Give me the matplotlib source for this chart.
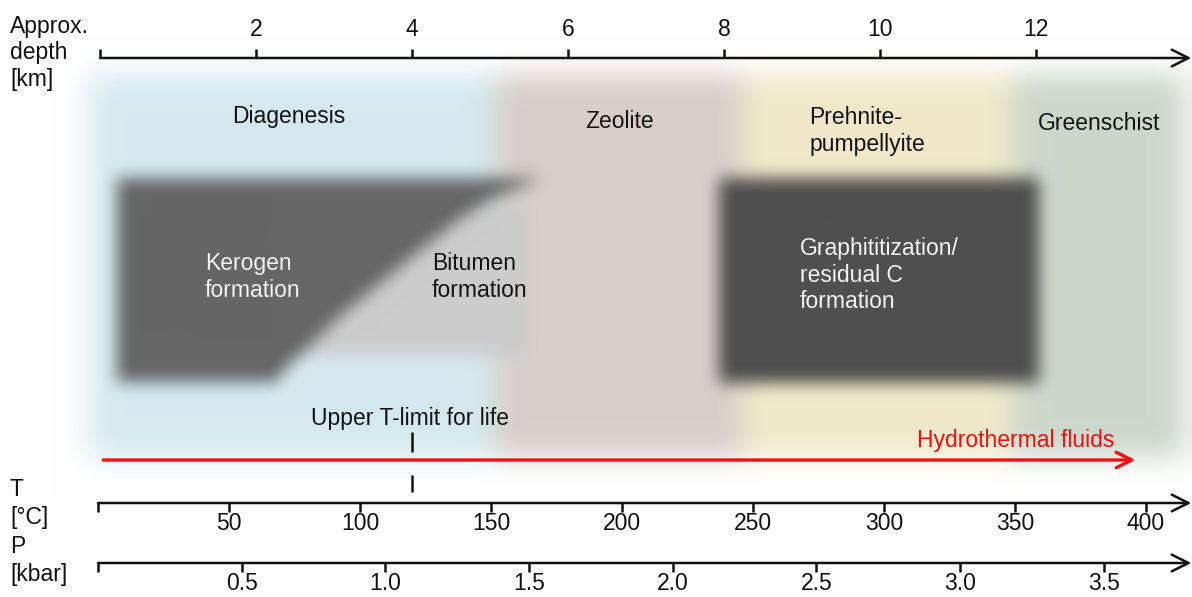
import numpy as np
import matplotlib
matplotlib.use('Agg')
import matplotlib.pyplot as plt

plt.rcParams['font.family'] = ['Liberation Sans', 'DejaVu Sans']

# axes scales (everything is placed on the temperature scale, deg C)
depth_ticks = [2, 4, 6, 8, 10, 12]          # km
temp_ticks = [50, 100, 150, 200, 250, 300, 350, 400]   # deg C
pres_ticks = [0.5, 1.0, 1.5, 2.0, 2.5, 3.0, 3.5]       # kbar
degC_per_km = 29.77
degC_offset_km = 0.76
degC_per_kbar = 109.7

# metamorphic zones: edges in deg C
zone_names = ['Diagenesis', 'Zeolite', 'Prehnite-\npumpellyite', 'Greenschist']
zone_edges = [-4, 152, 246, 349, 415]
zone_colors = ['#d5e9ef', '#d8ceca', '#f0e9c9', '#cdd7cb']

# kerogen / bitumen boundary (row position, deg C)
curve_y = [175, 185, 200, 217, 250, 283, 320, 350, 365, 380]
curve_T = [172.5, 163, 149.6, 138.9, 122.9, 107.6, 90.5, 79, 73, 68]
kerogen_T0 = 7.0
bitumen_T1 = 164
graphite_T = [237, 359.5]

life_limit = 120      # deg C
fluids_T = [2, 396]   # deg C

xlim = (-37.4, 417.6)
H, W = 597, 1192

def box_blur(a, r, axis):
    pad = [(0, 0)] * a.ndim
    pad[axis] = (r + 1, r)
    p = np.pad(a, pad, mode='edge')
    c = np.cumsum(p, axis=axis)
    n = a.shape[axis]
    hi = np.take(c, np.arange(2 * r + 1, 2 * r + 1 + n), axis=axis)
    lo = np.take(c, np.arange(0, n), axis=axis)
    return (hi - lo) / (2 * r + 1)

def blur(a, r):
    for _ in range(3):
        a = box_blur(a, r, 0)
        a = box_blur(a, r, 1)
    return a

def rgb(h):
    h = h.lstrip('#')
    return np.array([int(h[i:i + 2], 16) / 255 for i in (0, 2, 4)])

xs = np.linspace(xlim[0], xlim[1], W)
ys = np.arange(H) + 0.5
X, Y = np.meshgrid(xs, ys)

# background zones
bg = np.ones((H, W, 3))
band = (Y > 74) & (Y < 458)
for i in range(len(zone_names)):
    m = band & (X >= zone_edges[i]) & (X < zone_edges[i + 1])
    bg[m] = rgb(zone_colors[i])
bg = blur(bg, 13)

# boxes layer
lay = np.zeros((H, W, 4))
cx = np.interp(Y, curve_y, curve_T)
ker = (Y > 178) & (Y < 382) & (X > kerogen_T0) & (X < cx)
bit = (Y > 205) & (Y < 355) & (X >= cx) & (X < bitumen_T1)
gra = (Y > 178) & (Y < 383) & (X > graphite_T[0]) & (X < graphite_T[1])
for m, c in [(ker, '#666666'), (bit, '#cccccc'), (gra, '#4f4f4f')]:
    lay[m, :3] = rgb(c)
    lay[m, 3] = 1
lay[..., :3] *= lay[..., 3:4]
lay = blur(lay, 7)
img = lay[..., :3] + bg * (1 - lay[..., 3:4])
img = np.clip(img, 0, 1)

fig = plt.figure(figsize=(11.92, 5.97), dpi=100)
ax = fig.add_axes([0, 0, 1, 1])
ax.imshow(img, extent=(xlim[0], xlim[1], H, 0), aspect='auto', interpolation='bilinear')
ax.set_xlim(xlim)
ax.set_ylim(H, 0)
ax.axis('off')

fs = 16.5
dark = '#111111'
arrow = dict(arrowstyle='->', lw=1.8, color=dark, mutation_scale=30, shrinkA=0, shrinkB=0)

# depth axis
ax.annotate('', xy=(417.3, 58), xytext=(degC_offset_km, 58), arrowprops=arrow)
dT = [degC_offset_km + d * degC_per_km for d in depth_ticks]
ax.vlines([degC_offset_km] + dT, 49, 58, color=dark, lw=1.8)
for d, x in zip(depth_ticks, dT):
    ax.text(x, 30, str(d), ha='center', va='center', fontsize=fs, color=dark)
ax.text(-33.6, 53, 'Approx.\ndepth\n[km]', ha='left', va='center', fontsize=fs,
        color=dark, linespacing=1.18)

# temperature axis
ax.annotate('', xy=(417.3, 503), xytext=(0, 503), arrowprops=arrow)
ax.vlines([0] + temp_ticks, 503, 512, color=dark, lw=1.8)
for t in temp_ticks:
    ax.text(t, 524, str(t), ha='center', va='center', fontsize=fs, color=dark)

# pressure axis
ax.annotate('', xy=(417.3, 563), xytext=(0, 563), arrowprops=arrow)
pT = [p * degC_per_kbar for p in pres_ticks]
ax.vlines([0] + pT, 563, 572, color=dark, lw=1.8)
for p, x in zip(pres_ticks, pT):
    ax.text(x, 584, '%.1f' % p, ha='center', va='center', fontsize=fs, color=dark)

ax.text(-33.6, 532, 'T\n[°C]\nP\n[kbar]', ha='left', va='center', fontsize=fs,
        color=dark, linespacing=1.3)

# zone labels
ax.text(73, 116, zone_names[0], ha='center', va='center', fontsize=fs, color=dark)
ax.text(199, 122, zone_names[1], ha='center', va='center', fontsize=fs, color=dark)
ax.text(271.5, 131, zone_names[2], ha='left', va='center', fontsize=fs, color=dark,
        linespacing=1.2)
ax.text(382, 124, zone_names[3], ha='center', va='center', fontsize=fs, color=dark)

ax.text(40.8, 277, 'Kerogen\nformation', ha='left', va='center', fontsize=fs,
        color='#f5f5f5', linespacing=1.2)
ax.text(127.5, 277, 'Bitumen\nformation', ha='left', va='center', fontsize=fs,
        color=dark, linespacing=1.2)
ax.text(268, 275, 'Graphititization/\nresidual C\nformation', ha='left', va='center',
        fontsize=fs, color='#f5f5f5', linespacing=1.2)

# upper T-limit for life
ax.text(life_limit - 1, 418, 'Upper T-limit for life', ha='center', va='center',
        fontsize=fs, color=dark)
ax.vlines(life_limit, 432, 452, color=dark, lw=1.8)
ax.vlines(life_limit, 475, 492, color=dark, lw=1.8)

# hydrothermal fluids
ax.annotate('', xy=(fluids_T[1], 460), xytext=(fluids_T[0], 460),
            arrowprops=dict(arrowstyle='->', lw=2.4, color='#ee1111',
                            mutation_scale=28, shrinkA=0, shrinkB=0))
ax.text(388, 441, 'Hydrothermal fluids', ha='right', va='center', fontsize=fs,
        color='#ee1111')

fig.savefig('out.png', dpi=100)
